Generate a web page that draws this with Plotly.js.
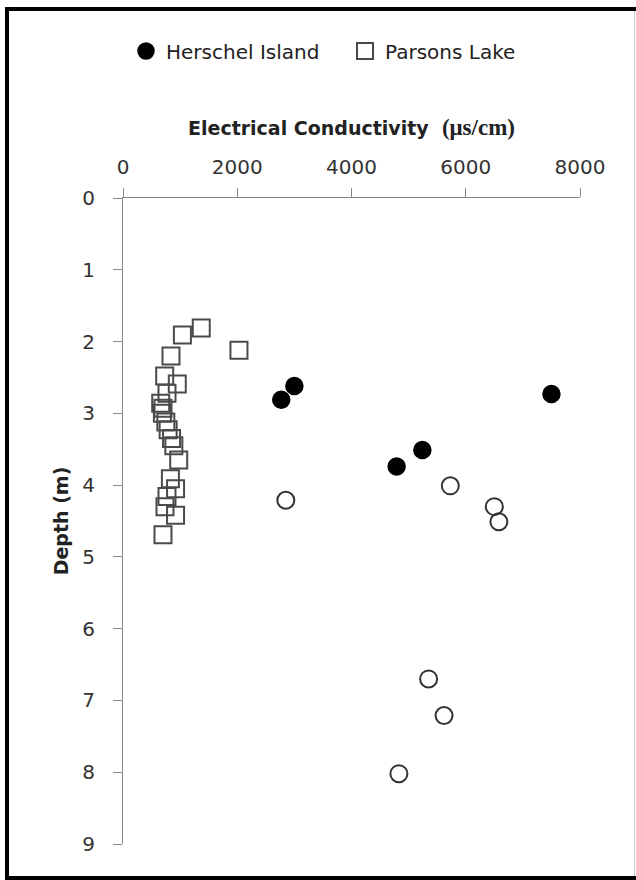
<!DOCTYPE html>
<html><head><meta charset="utf-8">
<script src="https://cdn.plot.ly/plotly-3.0.1.min.js"></script>
<style>html,body{margin:0;padding:0;background:#fff;overflow:hidden}#chart{width:636px;height:880px}</style>
</head><body><div id="chart"></div>
<script>
// Herschel Island (filled circles)
const herschelEC = [3000, 2770, 7500, 5240, 4790];
const herschelDepth = [2.62, 2.81, 2.73, 3.51, 3.74];
// Unlabelled series (open circles)
const otherEC = [2850, 5730, 6500, 6580, 5350, 5620, 4830];
const otherDepth = [4.21, 4.01, 4.30, 4.51, 6.70, 7.21, 8.02];
// Parsons Lake (open squares)
const parsonsEC = [1370, 1040, 2030, 840, 730, 950, 770, 660, 700, 690, 750, 790, 850, 890, 975, 830, 920, 770, 735, 920, 700];
const parsonsDepth = [1.81, 1.91, 2.12, 2.20, 2.48, 2.59, 2.72, 2.86, 2.93, 3.00, 3.12, 3.23, 3.35, 3.45, 3.65, 3.91, 4.05, 4.16, 4.30, 4.42, 4.69];
const xTicks = [0, 2000, 4000, 6000, 8000];
const yTicks = [0, 1, 2, 3, 4, 5, 6, 7, 8, 9];

const traces = [
  {x: herschelEC, y: herschelDepth, type: 'scatter', mode: 'markers', name: 'Herschel Island',
   marker: {symbol: 'circle', size: 17, color: '#000', line: {color: '#000', width: 1.5}}},
  {x: parsonsEC, y: parsonsDepth, type: 'scatter', mode: 'markers', name: 'Parsons Lake',
   marker: {symbol: 'square-open', size: 17, color: '#4a4a4a', line: {color: '#4a4a4a', width: 2}}},
  {x: otherEC, y: otherDepth, type: 'scatter', mode: 'markers', name: 'other', showlegend: false,
   marker: {symbol: 'circle-open', size: 17, color: '#333', line: {color: '#333', width: 2}}}
];

const px = v => (v - 123) / 457;
const py = v => (844 - v) / 646;

const layout = {
  width: 636, height: 880,
  margin: {l: 123, r: 56, t: 198, b: 36},
  paper_bgcolor: '#fff', plot_bgcolor: '#fff',
  font: {family: 'DejaVu Sans', size: 20, color: '#333'},
  xaxis: {
    side: 'top', range: [0, 8000], tickvals: xTicks, ticktext: xTicks.map(String),
    showgrid: false, zeroline: false, showline: true, linecolor: '#888', linewidth: 1,
    ticks: 'outside', ticklen: 9, tickcolor: '#888', ticklabelstandoff: 6,
    tickfont: {family: 'DejaVu Sans', size: 20, color: '#333'},
    title: {text: 'Electrical Conductivity  <span style="font-family:Liberation Serif;font-size:23px">(μs/cm)</span>',
            font: {family: 'DejaVu Sans', size: 19, color: '#222', weight: 'bold'}, standoff: 14}
  },
  yaxis: {
    range: [9, 0], tickvals: yTicks, ticktext: yTicks.map(String),
    showgrid: false, zeroline: false, showline: true, linecolor: '#888', linewidth: 1,
    ticks: 'outside', ticklen: 9, tickcolor: '#888', ticklabelstandoff: 14,
    tickfont: {family: 'DejaVu Sans', size: 20, color: '#333'},
    title: {text: 'Depth (m)', font: {family: 'DejaVu Sans', size: 19, color: '#222', weight: 'bold'}, standoff: 8}
  },
  showlegend: true,
  legend: {orientation: 'h', x: px(126), xanchor: 'left', y: py(51), yanchor: 'middle',
           entrywidth: 174,
           font: {family: 'DejaVu Sans', size: 20, color: '#222'}, bgcolor: 'rgba(0,0,0,0)',
           traceorder: 'normal', itemclick: false},
  shapes: [
    {type: 'line', xref: 'paper', yref: 'paper', x0: px(7), x1: px(7), y0: py(7), y1: py(880), line: {color: '#000', width: 4}},
    {type: 'line', xref: 'paper', yref: 'paper', x0: px(5), x1: px(636), y0: py(9), y1: py(9), line: {color: '#000', width: 4}},
    {type: 'line', xref: 'paper', yref: 'paper', x0: px(5), x1: px(636), y0: py(878), y1: py(878), line: {color: '#000', width: 4}},
    {type: 'line', xref: 'paper', yref: 'paper', x0: px(634.5), x1: px(634.5), y0: py(11), y1: py(876), line: {color: '#d0d0d0', width: 1}}
  ]
};

Plotly.newPlot('chart', traces, layout, {staticPlot: true, displayModeBar: false});
</script></body></html>
